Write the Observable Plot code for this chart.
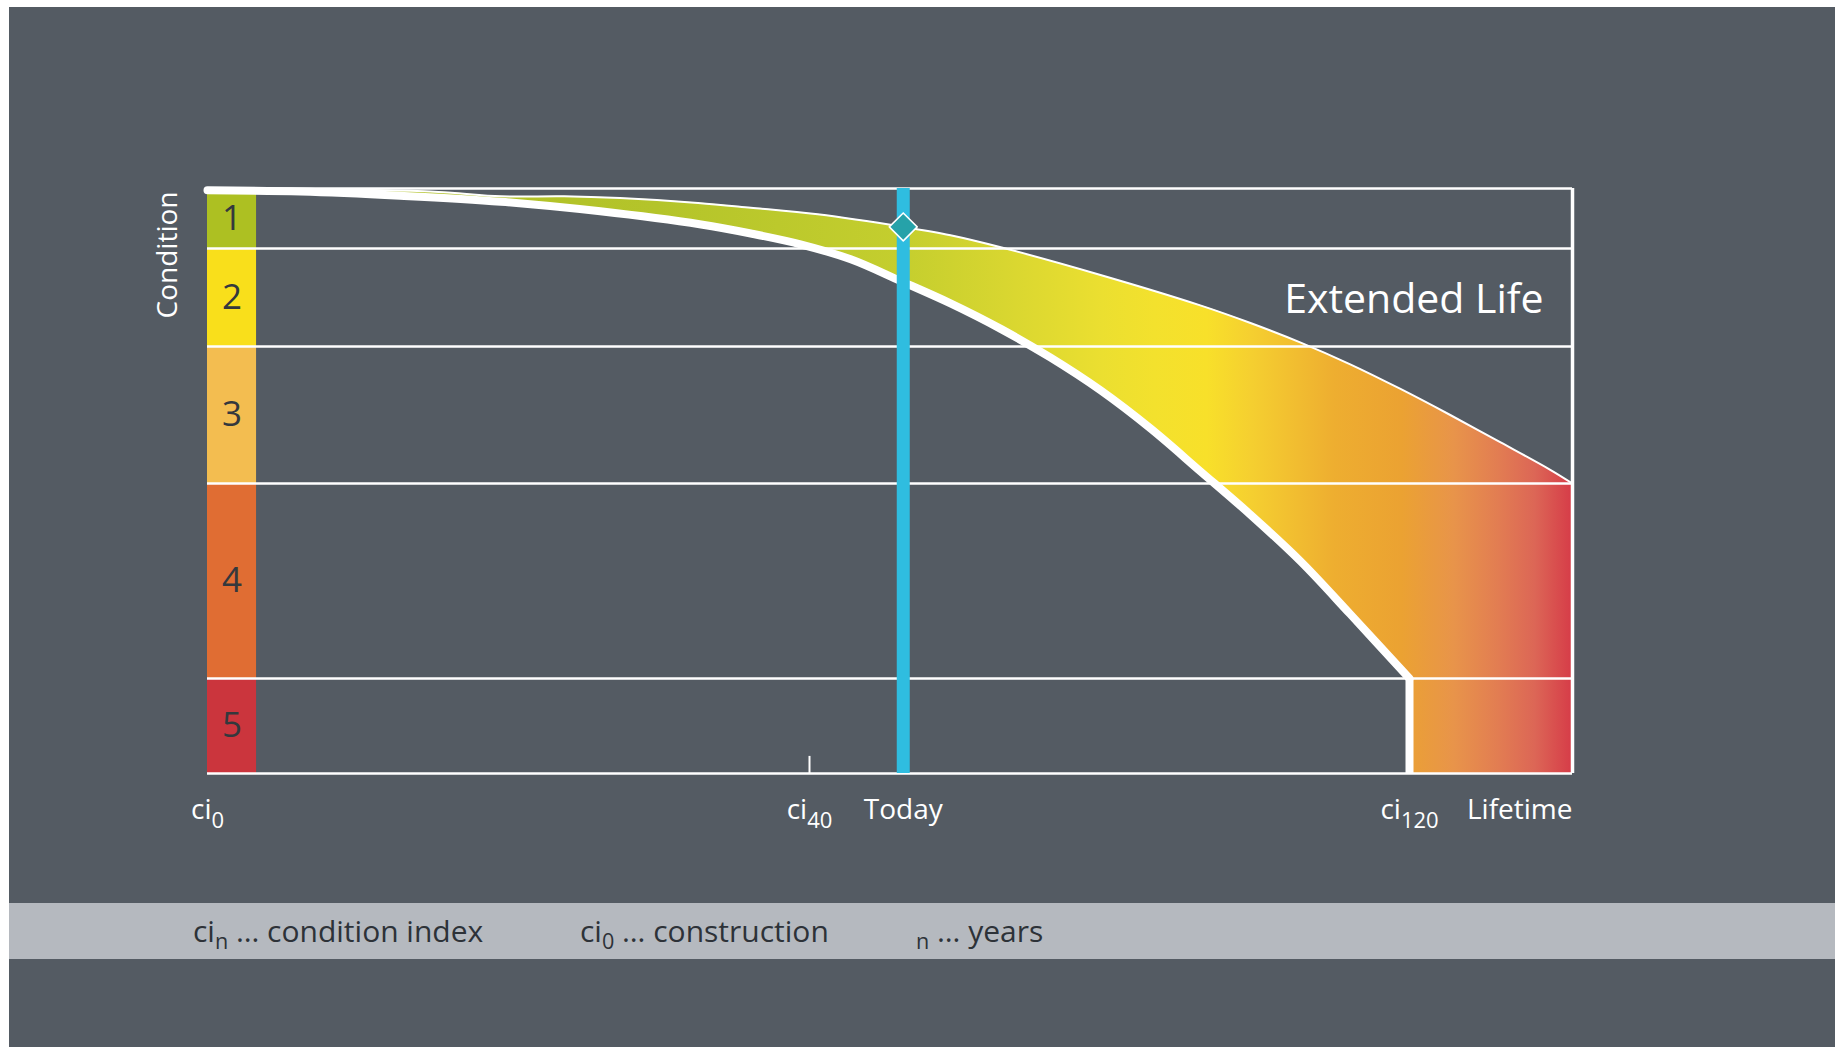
<!DOCTYPE html>
<html>
<head>
<meta charset="utf-8">
<script src="https://cdn.jsdelivr.net/npm/d3@7"></script>
<script src="https://cdn.jsdelivr.net/npm/@observablehq/plot@0.6"></script>
<style>
  html, body { margin: 0; padding: 0; background: #ffffff; }
  #panel {
    position: absolute; left: 9px; top: 7px; width: 1826px; height: 1040px;
    background: #545b63; font-family: "Open Sans", sans-serif;
  }
  #chart svg { display: block; }
  #legend {
    position: absolute; left: 0; top: 896px; width: 1826px; height: 56px;
    background: #b5b9bf; color: #2d3238; font-size: 30px;
  }
  #legend span { position: absolute; top: 0; line-height: 56px; white-space: nowrap; }
  #legend sub { font-size: 0.72em; vertical-align: -0.32em; line-height: 0; }
</style>
</head>
<body>
<div id="panel">
  <div id="chart"></div>
  <div id="legend"></div>
</div>
<script>
// ---- Condition classes (1 = very good ... 5 = critical)
const conditionClasses = [1, 2, 3, 4, 5];
const classColors = ["#adc022", "#f9df1b", "#f3bd50", "#e06d33", "#cb353d"];
const classEdges = [0.5, 1.5, 2.5, 3.5, 4.5, 5.5];

// ---- Timeline (years since construction)
const tickYears = [0, 40, 120];
const tickSubscripts = ["0", "40", "120"];
const todayYear = 52.5;
const lifetimeEnd = 142;

// ---- Deterioration without intervention: years -> condition
const originalYears = [0, 6.2, 12.8, 19.5, 26.1, 32.8, 36.1, 39.4, 45.5, 52.1, 58.8, 65.5, 72.1, 78.8, 85.5, 92.1, 98.8, 105.5, 112.1, 120];
const originalCondition = [0.53, 0.55, 0.62, 0.72, 0.88, 1.10, 1.25, 1.43, 1.61, 1.83, 2.06, 2.32, 2.58, 2.82, 3.10, 3.41, 3.66, 3.90, 4.17, 4.5];

// ---- Deterioration with maintenance (extended life): years -> condition
const extendedYears = [0, 14.8, 19.5, 23.7, 27.4, 32.6, 36.1, 41.1, 52.5, 58.8, 65.5, 78.8, 92.1, 98.8, 105.5, 112.1, 118.8, 125.5, 132.3, 139.0, 142];
const extendedCondition = [0.5, 0.55, 0.63, 0.63, 0.66, 0.74, 0.82, 0.93, 1.14, 1.28, 1.48, 1.77, 2.08, 2.26, 2.46, 2.63, 2.81, 3.0, 3.2, 3.4, 3.5];

// ---- Current state
const todayCondition = 1.14;

// ---- Colour ramp of the life band along the timeline
const gradientYears = [0, 30, 52, 66, 79, 86, 93, 99, 110, 119, 126, 132, 137, 142];
const gradientColors = ["#aebf24", "#b4c42a", "#c4ce2e", "#d8d630", "#ebdf30", "#f3e12d", "#f8e02a", "#f5cf30", "#eeae30", "#eba232", "#e8944a", "#e27d52", "#dc6656", "#d63c48"];

// ---- Legend entries
const legendSymbols = ["ci", "ci", ""];
const legendSubscripts = ["n", "0", "n"];
const legendTexts = ["condition index", "construction", "years"];
const legendLeft = [184, 571, 907];

const BG = "#545b63";
const WHITE = "#ffffff";

const original = originalYears.map((t, i) => ({t, c: originalCondition[i]}));
const extended = extendedYears.map((t, i) => ({t, c: extendedCondition[i]}));
const bands = conditionClasses.map((k, i) => ({k, lo: classEdges[i], hi: classEdges[i + 1], color: classColors[i]}));
const ticks = tickYears.map((t, i) => ({t, label: "ci_" + tickSubscripts[i]}));

const xDomain = [0, 40, 120, lifetimeEnd];
const xRange = [198, 800, 1400, 1563];
const yDomain = classEdges;
const yRange = [181, 241, 339, 476, 671, 766];
const columnWidth = 3.26; // years

// Horizontal colour gradient for the life band, placed with the x scale
function lifeGradient(index, scales) {
  const x = scales && scales.x ? scales.x : d3.scaleLinear(xDomain, xRange);
  const ns = "http://www.w3.org/2000/svg";
  const defs = document.createElementNS(ns, "defs");
  const g = document.createElementNS(ns, "linearGradient");
  g.setAttribute("id", "life-gradient");
  g.setAttribute("gradientUnits", "userSpaceOnUse");
  const x0 = x(0), x1 = x(lifetimeEnd);
  g.setAttribute("x1", x0); g.setAttribute("x2", x1);
  g.setAttribute("y1", 0); g.setAttribute("y2", 0);
  gradientYears.forEach((t, i) => {
    const s = document.createElementNS(ns, "stop");
    s.setAttribute("offset", ((x(t) - x0) / (x1 - x0)).toFixed(4));
    s.setAttribute("stop-color", gradientColors[i]);
    g.appendChild(s);
  });
  defs.appendChild(g);
  return defs;
}

const chart = Plot.plot({
  width: 1826,
  height: 896,
  marginLeft: 198,
  marginRight: 263,
  marginTop: 181,
  marginBottom: 130,
  style: {background: "transparent", fontFamily: "'Open Sans', sans-serif", overflow: "visible"},
  x: {type: "linear", domain: xDomain, range: xRange, axis: null},
  y: {type: "linear", domain: yDomain, range: yRange, axis: null},
  marks: [
    lifeGradient,
    // life band: everything under the extended curve ...
    Plot.areaY(extended, {x: "t", y1: "c", y2: 5.5, fill: "url(#life-gradient)", curve: "catmull-rom"}),
    // ... minus the region under the original curve
    Plot.areaY(original, {x: "t", y1: "c", y2: 5.5, fill: BG, curve: "catmull-rom"}),
    // condition class column
    Plot.rect(bands, {x1: 0, x2: columnWidth, y1: "lo", y2: "hi", fill: "color"}),
    Plot.text(bands, {x: columnWidth / 2, y: "k", text: d => String(d.k), fill: "#34383d", fontSize: 35}),
    // class boundaries and frame
    Plot.ruleY(classEdges, {x1: 0, x2: lifetimeEnd, stroke: WHITE, strokeWidth: 2.5}),
    Plot.ruleX([lifetimeEnd], {y1: 0.5, y2: 5.5, stroke: WHITE, strokeWidth: 3.5}),
    // curves
    Plot.line(extended, {x: "t", y: "c", stroke: WHITE, strokeWidth: 2, curve: "catmull-rom"}),
    Plot.line(original, {x: "t", y: "c", stroke: WHITE, strokeWidth: 8, curve: "catmull-rom"}),
    Plot.ruleX([120], {y1: 4.5, y2: 5.5, stroke: WHITE, strokeWidth: 8}),
    Plot.ruleX([40], {y1: 5.32, y2: 5.5, stroke: WHITE, strokeWidth: 2}),
    // today
    Plot.ruleX([todayYear], {y1: 0.5, y2: 5.5, stroke: "#2fbde0", strokeWidth: 13}),
    Plot.dot([{t: todayYear, c: todayCondition}], {x: "t", y: "c", symbol: "diamond2", r: 12.6, fill: "#26a2a9", stroke: WHITE, strokeWidth: 1.5, strokeLinejoin: "round"}),
    // labels
    Plot.text(["Condition"], {x: 0, y: 0.55, dx: -39, rotate: -90, textAnchor: "end", lineAnchor: "middle", fill: WHITE, fontSize: 28}),
    Plot.text(["Extended Life"], {x: 138.1, y: 2.02, textAnchor: "end", fill: WHITE, fontSize: 41}),
    Plot.text(ticks, {x: "t", y: 5.5, dy: 45, text: "label", lineAnchor: "bottom", textAnchor: "middle", fill: WHITE, fontSize: 28}),
    Plot.text(["Today"], {x: todayYear, y: 5.5, dy: 45, lineAnchor: "bottom", textAnchor: "middle", fill: WHITE, fontSize: 28}),
    Plot.text(["Lifetime"], {x: lifetimeEnd, y: 5.5, dy: 45, lineAnchor: "bottom", textAnchor: "end", fill: WHITE, fontSize: 28})
  ]
});

// Render "ci_40" style labels with a lowered subscript
chart.querySelectorAll("text").forEach(el => {
  if (el.children.length || !el.textContent.includes("_")) return;
  const [base, sub] = el.textContent.split("_");
  el.textContent = base;
  const ts = document.createElementNS("http://www.w3.org/2000/svg", "tspan");
  ts.setAttribute("dy", "9");
  ts.setAttribute("font-size", "22");
  ts.textContent = sub;
  el.appendChild(ts);
});

document.getElementById("chart").appendChild(chart);

// Legend strip
const legend = document.getElementById("legend");
legendTexts.forEach((txt, i) => {
  const span = document.createElement("span");
  span.style.left = legendLeft[i] + "px";
  span.innerHTML = legendSymbols[i] + "<sub>" + legendSubscripts[i] + "</sub> … " + txt;
  legend.appendChild(span);
});
</script>
</body>
</html>
